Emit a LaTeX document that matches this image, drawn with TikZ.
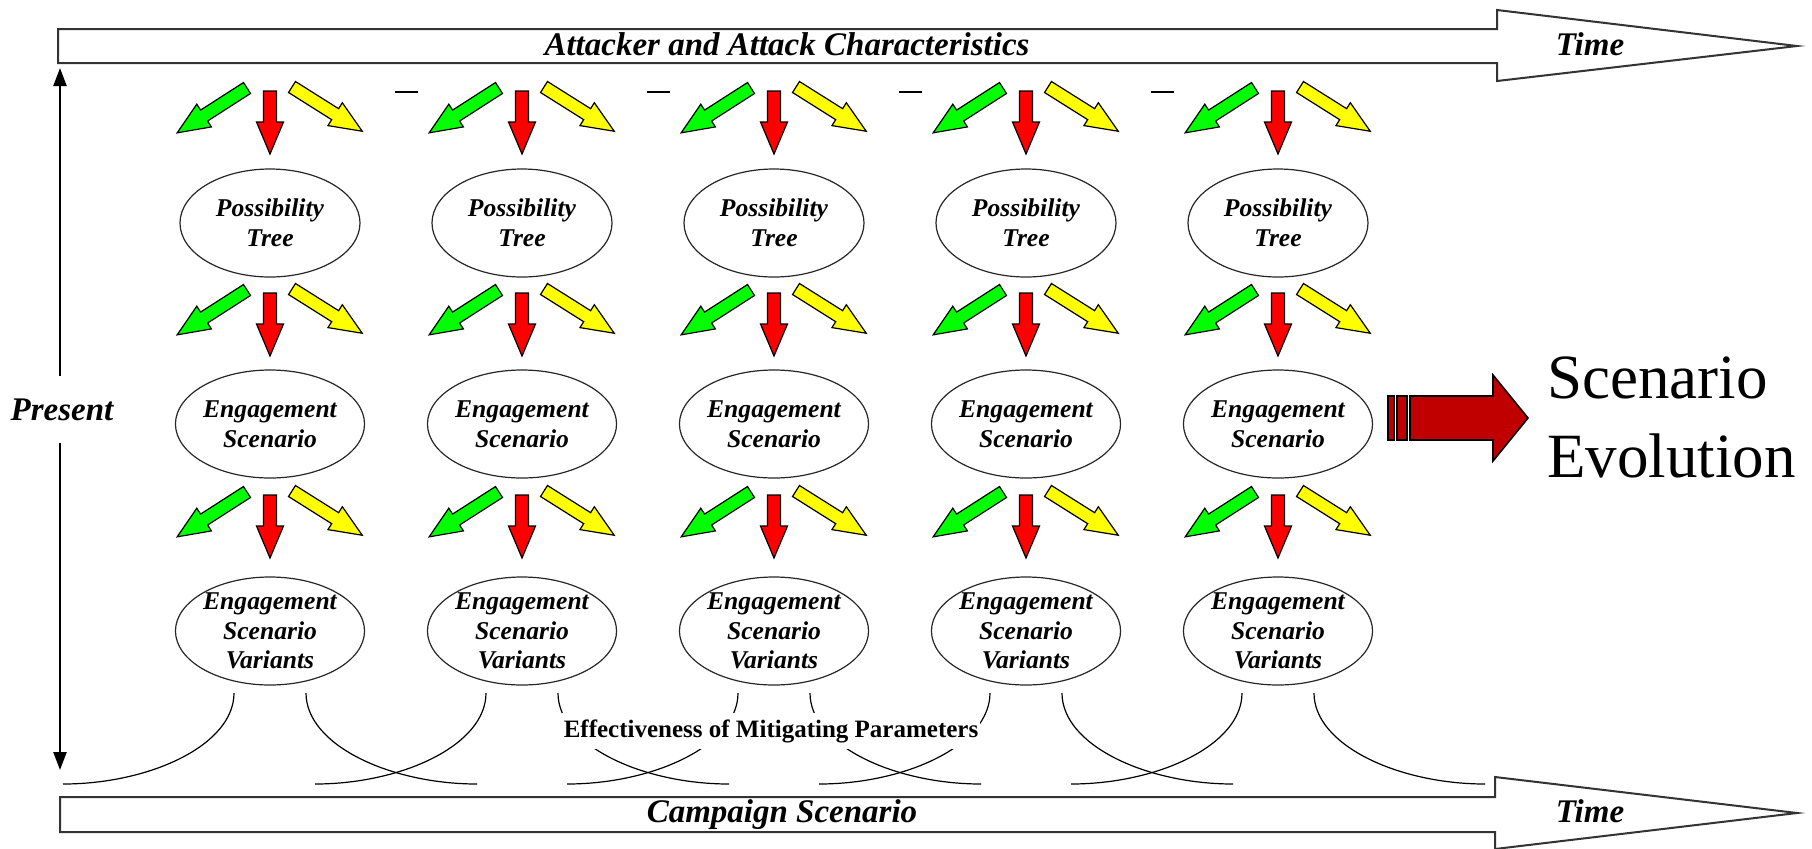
\documentclass[tikz,border=0pt]{standalone}
\usepackage{fontspec}
\setmainfont{Liberation Serif}
\usetikzlibrary{shapes.geometric,arrows.meta}

\definecolor{fatgreen}{RGB}{0,255,0}
\definecolor{fatyellow}{RGB}{255,255,0}
\definecolor{fatred}{RGB}{255,0,0}
\definecolor{evored}{RGB}{192,0,0}

\tikzset{
  pics/fatarrow/.style 2 args={code={
    \draw[fill=#1,line width=0.6pt] (0,-6.5) -- ({#2-32},-6.5) -- ({#2-32},-13.5) -- (#2,0)
      -- ({#2-32},13.5) -- ({#2-32},6.5) -- (0,6.5) -- cycle;}},
  stage/.style={ellipse,draw=black!85,line width=0.6pt,minimum width=90pt,minimum height=54pt,
    inner sep=0pt,align=center,font=\fontsize{12.8}{14.8}\selectfont\bfseries\itshape},
  band/.style={draw=black!80,line width=1pt,fill=white},
  bandtext/.style={anchor=base,font=\fontsize{16.5}{19}\selectfont\bfseries\itshape},
  vline/.style={line width=1.2pt,-{Triangle[length=9pt,width=6.5pt]}},
  evo/.style={fill=evored,draw=black,line width=0.8pt}
}

\begin{document}
\begin{tikzpicture}[x=0.5pt,y=-0.5pt]
\useasboundingbox (0,0) rectangle (1812,848);

% time bands
\draw[band] (58,29) -- (1497,29) -- (1497,10) -- (1797,46) -- (1497,81) -- (1497,63) -- (58,63) -- cycle;
\node[bandtext] (attack) at (787,55) {Attacker and Attack Characteristics};
\node[bandtext] (timetop) at (1590,55) {Time};

\draw[band] (60,797) -- (1495,797) -- (1495,777) -- (1797,813) -- (1495,849) -- (1495,832) -- (60,832) -- cycle;
\node[bandtext] (campaign) at (782,822) {Campaign Scenario};
\node[bandtext] (timebot) at (1590,822) {Time};

% present axis
\coordinate (ptop) at (60,68);
\coordinate (pbot) at (60,770);
\node[bandtext,fill=white,inner xsep=2pt,inner ysep=11pt] (present) at (62,420) {Present};
\draw[vline] (present.north -| ptop) -- (ptop);
\draw[vline] (present.south -| pbot) -- (pbot);

% columns
\foreach \i in {1,...,5}{
  \pgfmathsetmacro\cx{270+252*(\i-1)}
  \node[stage] (P\i) at (\cx,223) {Possibility\\Tree};
  \node[stage] (E\i) at (\cx,424) {Engagement\\Scenario};
  \node[stage] (V\i) at (\cx,631) {Engagement\\Scenario\\Variants};
  \foreach \y in {91,293,495}{
    \pic[rotate=-147.3] at (\cx-23,\y-3) {fatarrow={fatgreen}{83}};
    \pic[rotate=-90] at (\cx,\y) {fatarrow={fatred}{63}};
    \pic[rotate=-32.2] at (\cx+22,\y-4) {fatarrow={fatyellow}{83}};
  }
  \draw[line width=0.6pt] (\cx-36,693) .. controls (\cx-36,745) and (\cx-120,784) .. (\cx-207,784);
  \draw[line width=0.6pt] (\cx+36,693) .. controls (\cx+36,745) and (\cx+120,784) .. (\cx+207,784);
}
\foreach \i in {1,...,4}
  \draw[line width=0.7pt] (270+252*\i-127,92) -- ++(23,0);

\node[fill=white,inner xsep=1pt,inner ysep=3pt,anchor=base,
      font=\fontsize{12.5}{14}\selectfont\bfseries] (mitig) at (771,737)
      {Effectiveness of Mitigating Parameters};

% evolution arrow
\draw[evo] (1388,396) rectangle (1394,440);
\draw[evo] (1397,396) rectangle (1407,440);
\draw[evo] (1410,396) -- (1493,396) -- (1493,375) -- (1528,418) -- (1493,461) -- (1493,440) -- (1410,440) -- cycle;
\node[anchor=west,align=left,inner sep=0pt,font=\fontsize{31.5}{39.5}\selectfont] (evolution)
  at (1547,417) {Scenario\\Evolution};
\end{tikzpicture}
\end{document}
